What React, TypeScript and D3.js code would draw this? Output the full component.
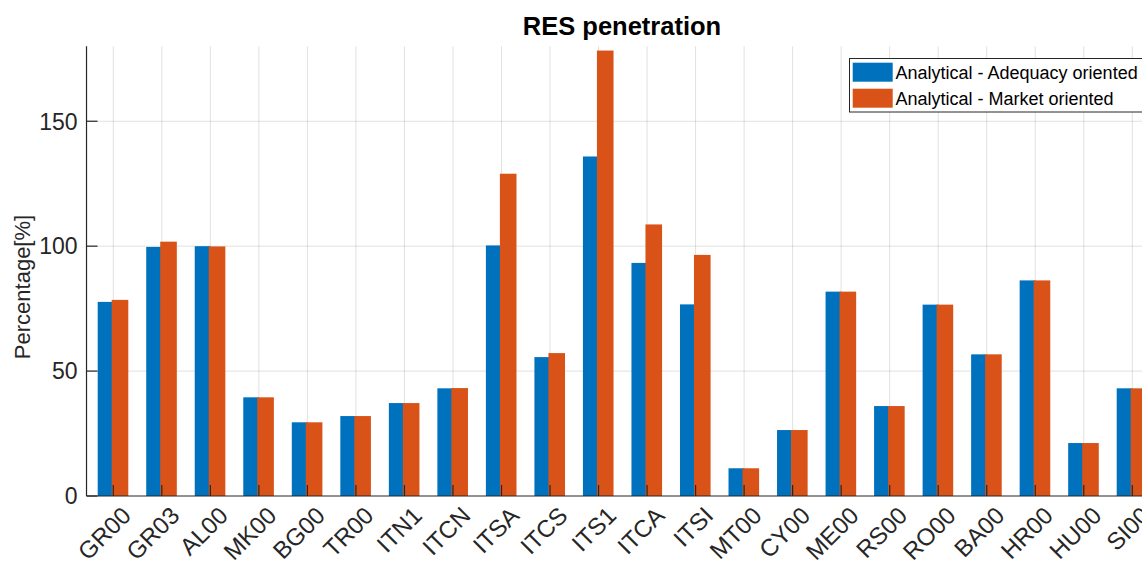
import React from "react";
import * as d3 from "d3";

const categories = ["GR00","GR03","AL00","MK00","BG00","TR00","ITN1","ITCN","ITSA","ITCS","ITS1","ITCA","ITSI","MT00","CY00","ME00","RS00","RO00","BA00","HR00","HU00","SI00"];
const adequacy = [77.7, 99.7, 100.0, 39.5, 29.5, 32.0, 37.2, 43.1, 100.3, 55.6, 135.9, 93.3, 76.7, 11.1, 26.4, 81.8, 36.0, 76.6, 56.7, 86.3, 21.2, 43.1];
const market =   [78.5, 101.8, 99.9, 39.5, 29.5, 32.0, 37.2, 43.2, 129.0, 57.2, 178.3, 108.7, 96.5, 11.1, 26.4, 81.8, 36.0, 76.6, 56.7, 86.3, 21.2, 43.1];
const yTicks = [0, 50, 100, 150];
const seriesNames = ["Analytical - Adequacy oriented", "Analytical - Market oriented"];
const colors = ["#0072BD", "#D95319"];

const W = 1142, H = 564;
const FONT = "'Liberation Sans', Arial, Helvetica, sans-serif";

export default function App() {
  const x = d3.scaleLinear().domain([0, 21]).range([113.3, 1132.3]);
  const y = d3.scaleLinear().domain([0, 180]).range([496, 46.3]);
  const left = x(-0.552);
  const right = W + 60;
  const top = y(180);
  const base = y(0);
  return (
    <svg width={W} height={H} style={{ position: "absolute", left: 0, top: 0, background: "#fff" }} fontFamily={FONT}>
      <rect x={0} y={0} width={W} height={H} fill="#fff" />
      {/* grid */}
      {categories.map((c, i) => (
        <line key={"vg" + c} x1={x(i)} x2={x(i)} y1={top} y2={base} stroke="#000" strokeOpacity={0.12} strokeWidth={1} />
      ))}
      {yTicks.filter(t => t > 0).map(t => (
        <line key={"hg" + t} x1={left} x2={right} y1={y(t)} y2={y(t)} stroke="#000" strokeOpacity={0.12} strokeWidth={1} />
      ))}
      {/* bars */}
      {categories.map((c, i) => (
        <g key={"b" + c}>
          <rect x={x(i) - 15.6} width={15.6} y={y(adequacy[i])} height={base - y(adequacy[i])} fill={colors[0]} />
          <rect x={x(i) - 1.6} width={16.6} y={y(market[i])} height={base - y(market[i])} fill={colors[1]} />
        </g>
      ))}
      {/* axes */}
      <line x1={left} x2={left} y1={top} y2={base} stroke="#262626" strokeWidth={1.2} />
      <line x1={left} x2={right} y1={base} y2={base} stroke="#262626" strokeWidth={1.2} />
      {categories.map((c, i) => (
        <line key={"xt" + c} x1={x(i)} x2={x(i)} y1={base} y2={base - 11} stroke="#262626" strokeWidth={1.2} />
      ))}
      {yTicks.map(t => (
        <g key={"yt" + t}>
          <line x1={left} x2={left + 11} y1={y(t)} y2={y(t)} stroke="#262626" strokeWidth={1.2} />
          <text x={left - 9} y={y(t)} dy="0.36em" textAnchor="end" fontSize={23} fill="#262626">{t}</text>
        </g>
      ))}
      {categories.map((c, i) => (
        <text key={"xl" + c} transform={`translate(${x(i) + 13},${base + 15}) rotate(-45)`} dy="0.36em" textAnchor="end" fontSize={24} fill="#262626">{c}</text>
      ))}
      <text transform={`translate(30,287) rotate(-90)`} textAnchor="middle" fontSize={22} fill="#262626">Percentage[%]</text>
      <text x={622} y={35} textAnchor="middle" fontSize={25.5} fontWeight="bold" fill="#000">RES penetration</text>
      {/* legend */}
      <rect x={849.5} y={58.5} width={320} height={53.5} fill="#fff" stroke="#262626" strokeWidth={1} />
      {seriesNames.map((s, i) => (
        <g key={"lg" + i}>
          <rect x={852.7} y={62.7 + i * 26} width={40} height={19} fill={colors[i]} />
          <text x={895.5} y={72.2 + i * 26} dy="0.35em" fontSize={18} fill="#000">{s}</text>
        </g>
      ))}
    </svg>
  );
}
